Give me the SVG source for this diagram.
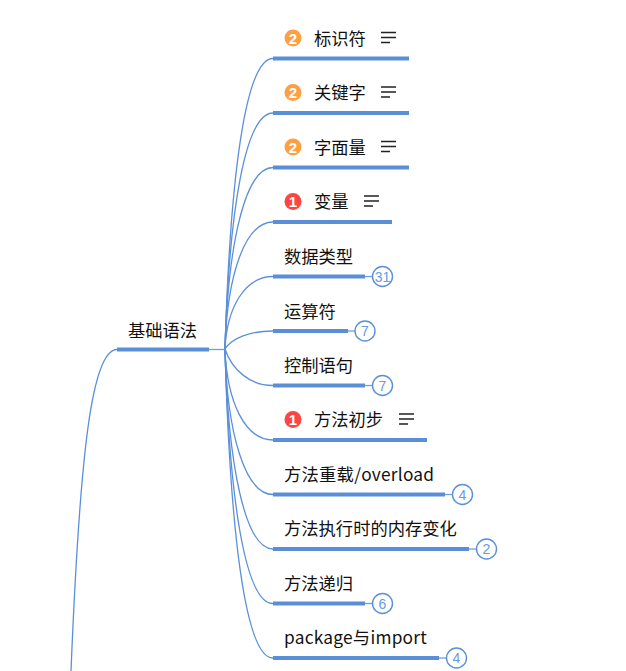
<svg xmlns="http://www.w3.org/2000/svg" width="626" height="671" viewBox="0 0 626 671">
<style>
.bg{fill:#fff}
.c{fill:none;stroke:#5b90d9;stroke-width:1.3}
.u{stroke:#5a8fd8;stroke-width:4;fill:none}
.t{stroke:#6f9fe0;stroke-width:1.3;fill:none}
text{font-family:"Noto Sans CJK SC","Noto Sans",sans-serif;font-size:17.3px;fill:#111}
.b{fill:#fff;stroke:#5b90d9;stroke-width:1.4}
.n{font-family:"Liberation Sans",Arial,sans-serif;font-size:14px;fill:#6a9ade;text-anchor:middle}
.i{font-family:"Liberation Sans",Arial,sans-serif;font-size:15px;font-weight:bold;fill:#fff;text-anchor:middle}
.m{stroke:#222;stroke-width:1.3;fill:none}
</style>
<rect class="bg" width="626" height="671"/>
<g id="connectors">
<path class="c" d="M117 349.500C92 349.500 80 450 71 671"/>
<path class="t" d="M209 349.500H225"/>
<path class="c" d="M225 349C230 180 245 58.500 273 58.500"/>
<path class="c" d="M225 349C229 212 245 113 273 113"/>
<path class="c" d="M225 349C228 244 245 167.500 273 167.500"/>
<path class="c" d="M225 349C227 275 245 222 273 222"/>
<path class="c" d="M225 349C227 307 245 276.500 273 276.500"/>
<path class="c" d="M225 349C232 338 250 331 273 331"/>
<path class="c" d="M225 349C232 370 250 385.500 273 385.500"/>
<path class="c" d="M225 349C227 402 245 440 273 440"/>
<path class="c" d="M225 349C227 433 245 494.500 273 494.500"/>
<path class="c" d="M225 349C228 465 245 549 273 549"/>
<path class="c" d="M225 349C229 497 245 603.500 273 603.500"/>
<path class="c" d="M225 349C230 530 245 658 273 658"/>
</g>
<g id="n0"><text x="128" y="336.500">基础语法</text><path class="u" d="M117 349.500H209"/></g>
<g id="n1"><circle cx="293" cy="38" r="8.500" fill="#ff9f43"/><text class="i" x="293" y="43.500">2</text><text x="314" y="44.500">标识符</text><path class="m" d="M381 32.500H396M381 37.500H396M381 42.500H390"/><path class="u" d="M273 58.500H409"/></g>
<g id="n2"><circle cx="293" cy="92.500" r="8.500" fill="#ff9f43"/><text class="i" x="293" y="98">2</text><text x="314" y="99">关键字</text><path class="m" d="M381 87H396M381 92H396M381 97H390"/><path class="u" d="M273 113H409"/></g>
<g id="n3"><circle cx="293" cy="147" r="8.500" fill="#ff9f43"/><text class="i" x="293" y="152.500">2</text><text x="314" y="153.500">字面量</text><path class="m" d="M381 141.500H396M381 146.500H396M381 151.500H390"/><path class="u" d="M273 167.500H409"/></g>
<g id="n4"><circle cx="293" cy="201.500" r="8.500" fill="#ff4444"/><text class="i" x="293" y="207">1</text><text x="314" y="208">变量</text><path class="m" d="M364 196H379M364 201H379M364 206H373"/><path class="u" d="M273 222H392"/></g>
<g id="n5"><text x="284" y="262.500">数据类型</text><path class="u" d="M273 276.500H365"/><path class="t" d="M365 276.500H372.500"/><circle class="b" cx="382.500" cy="276.500" r="10"/><text class="n" x="382.500" y="281.500">31</text></g>
<g id="n6"><text x="284" y="317.500">运算符</text><path class="u" d="M273 331H348"/><path class="t" d="M348 331H355"/><circle class="b" cx="365" cy="331" r="10"/><text class="n" x="365" y="336">7</text></g>
<g id="n7"><text x="284" y="372">控制语句</text><path class="u" d="M273 385.500H365"/><path class="t" d="M365 385.500H372.500"/><circle class="b" cx="382.500" cy="385.500" r="10"/><text class="n" x="382.500" y="390.500">7</text></g>
<g id="n8"><circle cx="293" cy="419.500" r="8.500" fill="#ff4444"/><text class="i" x="293" y="425">1</text><text x="314" y="426">方法初步</text><path class="m" d="M399 414H414M399 419H414M399 424H408"/><path class="u" d="M273 440H427"/></g>
<g id="n9"><text x="284" y="480.500" letter-spacing="0.25">方法重载/overload</text><path class="u" d="M273 494.500H445"/><path class="t" d="M445 494.500H452.500"/><circle class="b" cx="462.500" cy="494.500" r="10"/><text class="n" x="462.500" y="499.500">4</text></g>
<g id="n10"><text x="284" y="535">方法执行时的内存变化</text><path class="u" d="M273 549H469"/><path class="t" d="M469 549H476.500"/><circle class="b" cx="486.500" cy="549" r="10"/><text class="n" x="486.500" y="554">2</text></g>
<g id="n11"><text x="284" y="589.500">方法递归</text><path class="u" d="M273 603.500H365"/><path class="t" d="M365 603.500H372.500"/><circle class="b" cx="382.500" cy="603.500" r="10"/><text class="n" x="382.500" y="608.500">6</text></g>
<g id="n12"><text x="284" y="644" letter-spacing="0.25">package与import</text><path class="u" d="M273 658H439"/><path class="t" d="M439 658H446.500"/><circle class="b" cx="456.500" cy="658" r="10"/><text class="n" x="456.500" y="663">4</text></g>
</svg>
